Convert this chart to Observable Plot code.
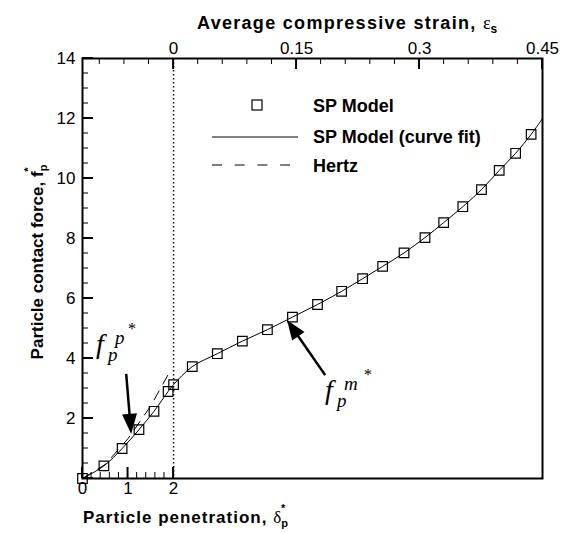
<!DOCTYPE html>
<html><head><meta charset="utf-8">
<script src="https://cdn.jsdelivr.net/npm/d3@7"></script>
<script src="https://cdn.jsdelivr.net/npm/@observablehq/plot@0.6"></script>
<style>body{margin:0;background:#fff} svg{display:block}</style>
</head><body><div id="chart"></div>
<script>
// SP Model markers (penetration δp*, contact force fp*)
const penetration = [0, 0.47, 0.87, 1.24, 1.57, 1.88, 2.0, 2.41, 2.96, 3.51, 4.06, 4.61, 5.16, 5.69, 6.15, 6.59, 7.06, 7.52, 7.93, 8.35, 8.76, 9.15, 9.51, 9.85];
const force       = [0, 0.42, 1.0, 1.63, 2.24, 2.9, 3.13, 3.73, 4.16, 4.58, 4.96, 5.38, 5.8, 6.24, 6.66, 7.07, 7.52, 8.03, 8.53, 9.06, 9.63, 10.27, 10.84, 11.47];
// curve fit end at right frame
const fitEndPenetration = 10.1;
const fitEndForce = 12.0;
// Hertz
const hertzPenetration = [0, 0.5, 1.0, 1.5, 1.93];
const hertzForce       = [0, 0.47, 1.33, 2.42, 3.6];
// axes
const penetrationTicks = [0, 1, 2];
const penetrationMinorTicks = [0.2, 0.4, 0.6, 0.8, 1.2, 1.4, 1.6, 1.8];
const forceTicks = [2, 4, 6, 8, 10, 12, 14];
const forceMajorMarks = [0, 2, 4, 6, 8, 10, 12, 14];
const forceMinorTicks = [0.5,1,1.5,2.5,3,3.5,4.5,5,5.5,6.5,7,7.5,8.5,9,9.5,10.5,11,11.5,12.5,13,13.5];
const strainTicks = [0, 0.15, 0.3, 0.45];
const strainTickLabels = ["0", "0.15", "0.3", "0.45"];
const strainMinorTicks = [-0.09,-0.06,-0.03,0.03,0.06,0.09,0.12,0.18,0.21,0.24,0.27,0.33,0.36,0.39,0.42];
const strainOrigin = 2;         // penetration at zero strain
const penetrationPerStrain = 18; // penetration units per unit strain
const xMax = 10.1, yMax = 14;
// annotations (penetration, force)
const arrowPTail = [0.97, 3.47], arrowPTip = [1.08, 1.47];
const arrowMTail = [5.34, 3.43], arrowMTip = [4.50, 5.27];

const toPen = e => strainOrigin + penetrationPerStrain * e;
const points = penetration.map((x, i) => ({x, y: force[i]}));
const fit = [...points, {x: fitEndPenetration, y: fitEndForce}];
const hertz = hertzPenetration.map((x, i) => ({x, y: hertzForce[i]}));
const strainMajorPen = strainTicks.map(toPen);
const strainLabelMap = new Map(strainMajorPen.map((p, i) => [p, strainTickLabels[i]]));

const chart = Plot.plot({
  width: 561, height: 533,
  marginLeft: 82, marginRight: 19, marginTop: 58, marginBottom: 55,
  style: {fontFamily: "'Liberation Sans', Arial, sans-serif", fontSize: "17px", color: "black", background: "white"},
  x: {domain: [0, xMax]},
  y: {domain: [0, yMax]},
  marks: [
    Plot.ruleX([strainOrigin], {strokeDasharray: "1.5,2.5", strokeWidth: 1.5}),
    Plot.line(hertz, {x: "x", y: "y", strokeDasharray: "10,8", strokeWidth: 1}),
    Plot.line(fit, {x: "x", y: "y", curve: "catmull-rom", strokeWidth: 1}),
    Plot.dot(points, {x: "x", y: "y", symbol: "square", r: 5.4, stroke: "black", strokeWidth: 1.2, fill: "none"}),
    Plot.axisX(penetrationTicks, {anchor: "bottom", tickSize: 0, tickPadding: 3, fontSize: 17, label: null}),
    Plot.axisY(forceTicks, {anchor: "left", tickSize: 0, tickPadding: 7, fontSize: 17, label: null}),
    Plot.axisX(strainMajorPen, {anchor: "top", tickSize: 0, tickPadding: 5, fontSize: 17, label: null, tickFormat: d => strainLabelMap.get(d)}),
    Plot.frame({strokeWidth: 2})
  ]
});

const svg = d3.select(chart);
const sx = chart.scale("x"), sy = chart.scale("y");
const bold = "'Liberation Sans', Arial, sans-serif";

// Inward tick marks placed with the chart's scales
const tg = svg.append("g").attr("stroke", "black");
const x0 = sx.apply(0), y0 = sy.apply(0), yTop = sy.apply(yMax);
function vt(vals, yBase, dir, len, w) {
  vals.forEach(v => { const x = sx.apply(v);
    tg.append("line").attr("x1", x).attr("x2", x).attr("y1", yBase).attr("y2", yBase + dir * len).attr("stroke-width", w); });
}
function ht(vals, len, w) {
  vals.forEach(v => { const y = sy.apply(v);
    tg.append("line").attr("x1", x0).attr("x2", x0 + len).attr("y1", y).attr("y2", y).attr("stroke-width", w); });
}
vt(penetrationTicks, y0, -1, 11, 2);
vt(penetrationMinorTicks, y0, -1, 6, 1);
vt(strainMajorPen, yTop, 1, 11, 2);
vt(strainMinorTicks.map(toPen), yTop, 1, 6, 1);
ht(forceMajorMarks, 11, 2);
ht(forceMinorTicks, 6, 1);

// Titles
const topTitle = svg.append("text").attr("x", 197).attr("y", 29).attr("text-anchor", "start").attr("font-family", bold).attr("font-weight", "bold").attr("font-size", 18).attr("letter-spacing", 1.3).attr("fill", "black");
topTitle.append("tspan").text("Average compressive strain, ");
topTitle.append("tspan").attr("font-family", "'Liberation Serif', serif").attr("font-weight", "normal").attr("letter-spacing", 0).text("ε");
topTitle.append("tspan").attr("font-size", 12).attr("dy", 4).attr("letter-spacing", 0).text("s");

const botTitle = svg.append("text").attr("x", 83).attr("y", 523).attr("text-anchor", "start").attr("font-family", bold).attr("font-weight", "bold").attr("font-size", 17).attr("letter-spacing", 1.0).attr("fill", "black");
botTitle.append("tspan").text("Particle penetration, ");
botTitle.append("tspan").attr("font-family", "'Liberation Serif', serif").attr("font-weight", "normal").attr("letter-spacing", 0).text("δ");
botTitle.append("tspan").attr("font-size", 11).attr("dy", 4).attr("letter-spacing", 0).text("p");
botTitle.append("tspan").attr("font-size", 11).attr("dx", -7).attr("dy", -15).attr("letter-spacing", 0).text("*");

const leftTitle = svg.append("text").attr("transform", "translate(43,262) rotate(-90)").attr("text-anchor", "middle").attr("font-family", bold).attr("font-weight", "bold").attr("font-size", 17).attr("fill", "black");
leftTitle.append("tspan").text("Particle contact force, f");
leftTitle.append("tspan").attr("font-size", 11).attr("dy", 4).text("p");
leftTitle.append("tspan").attr("font-size", 11).attr("dx", -7).attr("dy", -15).text("*");

// Legend
const lg = svg.append("g").attr("text-anchor", "start").attr("font-family", bold).attr("font-weight", "bold").attr("font-size", 18).attr("fill", "black");
lg.append("rect").attr("x", 252).attr("y", 100).attr("width", 10).attr("height", 10).attr("fill", "none").attr("stroke", "black").attr("stroke-width", 1.2);
lg.append("text").attr("x", 313).attr("y", 112).text("SP Model");
lg.append("line").attr("x1", 212).attr("x2", 298).attr("y1", 137).attr("y2", 137).attr("stroke", "black").attr("stroke-width", 1);
lg.append("text").attr("x", 313).attr("y", 143).text("SP Model (curve fit)");
lg.append("line").attr("x1", 212).attr("x2", 290).attr("y1", 165).attr("y2", 165).attr("stroke", "black").attr("stroke-width", 1).attr("stroke-dasharray", "10,12.7");
lg.append("text").attr("x", 313).attr("y", 172).text("Hertz");

// Arrows
function arrow(tail, tip, headLen, headW) {
  const x1 = sx.apply(tail[0]), y1 = sy.apply(tail[1]);
  const x2 = sx.apply(tip[0]), y2 = sy.apply(tip[1]);
  const dx = x2 - x1, dy = y2 - y1, L = Math.hypot(dx, dy), ux = dx / L, uy = dy / L;
  const bx = x2 - ux * headLen, by = y2 - uy * headLen;
  svg.append("line").attr("x1", x1).attr("y1", y1).attr("x2", bx + ux * 2).attr("y2", by + uy * 2).attr("stroke", "black").attr("stroke-width", 2.5);
  svg.append("path").attr("d", `M${x2},${y2}L${bx + uy * headW / 2},${by - ux * headW / 2}L${bx - uy * headW / 2},${by + ux * headW / 2}Z`).attr("fill", "black");
}
arrow(arrowPTail, arrowPTip, 20, 15);
arrow(arrowMTail, arrowMTip, 20, 15);

// f labels
const serif = "'Liberation Serif', 'Times New Roman', serif";
function flabel(x, y, sup, supDx) {
  const g = svg.append("g").attr("text-anchor", "start").attr("font-family", serif).attr("font-style", "italic").attr("fill", "black");
  g.append("text").attr("x", x).attr("y", y).attr("font-size", 28).text("f");
  g.append("text").attr("x", x + 12).attr("y", y + 8).attr("font-size", 19).text("p");
  g.append("text").attr("x", x + 19).attr("y", y - 9).attr("font-size", 19).text(sup);
  g.append("text").attr("x", x + supDx).attr("y", y - 19).attr("font-size", 16).attr("font-style", "normal").text("*");
}
flabel(96, 353, "p", 32);
flabel(325, 399, "m", 39);

document.getElementById("chart").appendChild(chart);
</script>
</body></html>
